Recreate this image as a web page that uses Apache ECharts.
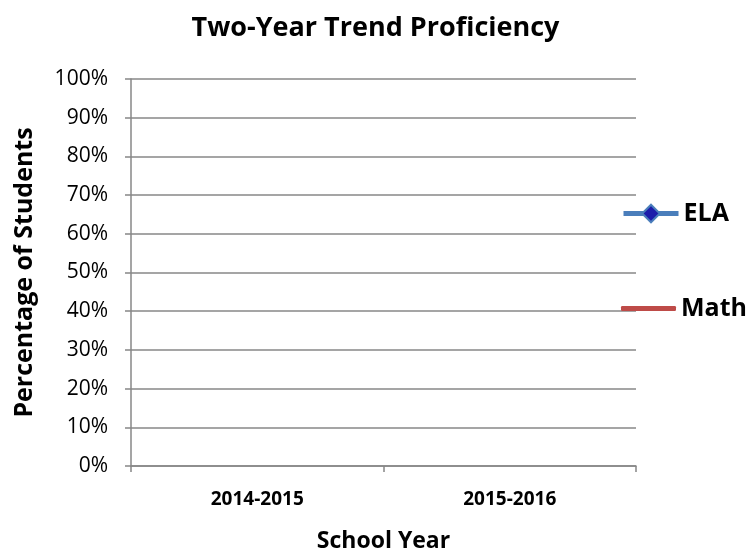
<!DOCTYPE html>
<html lang="en">
<head>
    <meta charset="UTF-8">
    <title>Two-Year Trend Proficiency</title>
    <style>
        * { margin: 0; padding: 0; }
        #main { width: 751px; height: 555px; background: #fff; }
    </style>
    <script src="https://cdn.jsdelivr.net/npm/echarts@6/dist/echarts.min.js"></script>
</head>
<body>
    <div id="main"></div>
    <script>
        // chart data (no values are plotted in the reference)
        var years = ['2014-2015', '2015-2016'];
        var elaValues = [null, null];
        var mathValues = [null, null];

        var font = 'Open Sans, Liberation Sans, sans-serif';
        var gridColor = '#878787';

        var myChart = echarts.init(document.getElementById('main'));
        var option = {
            backgroundColor: '#ffffff',
            animation: false,
            title: {
                text: 'Two-Year Trend Proficiency',
                left: 'center',
                top: 10,
                textStyle: { fontFamily: font, fontSize: 27, fontWeight: 'bold', color: '#000' }
            },
            grid: { left: 131, right: 115, top: 79, bottom: 89, outerBoundsMode: 'none' },
            legend: [
                {
                    data: ['ELA'],
                    left: 621,
                    top: 201,
                    padding: 0,
                    itemWidth: 55,
                    itemHeight: 22,
                    itemGap: 4,
                    lineStyle: { width: 5 },
                    textStyle: { fontFamily: font, fontSize: 25, fontWeight: 'bold', color: '#000' }
                },
                {
                    data: [{ name: 'Math', icon: 'roundRect', itemStyle: { color: '#be4b48' } }],
                    left: 621,
                    top: 296,
                    padding: 0,
                    itemWidth: 55,
                    itemHeight: 5,
                    itemGap: 4,
                    textStyle: { fontFamily: font, fontSize: 25, fontWeight: 'bold', color: '#000' }
                }
            ],
            xAxis: {
                type: 'category',
                data: years,
                boundaryGap: true,
                name: 'School Year',
                nameLocation: 'middle',
                nameGap: 64,
                nameTextStyle: { fontFamily: font, fontSize: 23, fontWeight: 'bold', color: '#000' },
                axisLine: { lineStyle: { color: gridColor, width: 1.5 } },
                axisTick: { show: true, length: 6, lineStyle: { color: gridColor, width: 1.5 } },
                axisLabel: { fontFamily: font, fontSize: 19, fontWeight: 'bold', color: '#000', margin: 24 }
            },
            yAxis: {
                type: 'value',
                min: 0,
                max: 1,
                interval: 0.1,
                name: 'Percentage of Students',
                nameLocation: 'middle',
                nameGap: 94,
                nameTextStyle: { fontFamily: font, fontSize: 25, fontWeight: 'bold', color: '#000' },
                axisLine: { show: true, lineStyle: { color: gridColor, width: 1.5 } },
                axisTick: { show: true, length: 6, lineStyle: { color: gridColor, width: 1.5 } },
                axisLabel: {
                    fontFamily: font, fontSize: 21, color: '#000', margin: 23,
                    formatter: function (v) { return Math.round(v * 100) + '%'; }
                },
                splitLine: { lineStyle: { color: gridColor, width: 1.5 } }
            },
            series: [
                {
                    name: 'ELA',
                    type: 'line',
                    data: elaValues,
                    symbol: 'diamond',
                    symbolSize: 14,
                    lineStyle: { color: '#4a7ebb', width: 4 },
                    itemStyle: { color: '#1c1caa', borderColor: '#4a7ebb', borderWidth: 1.5 }
                },
                {
                    name: 'Math',
                    type: 'line',
                    data: mathValues,
                    symbol: 'none',
                    lineStyle: { color: '#be4b48', width: 4 },
                    itemStyle: { color: '#be4b48' }
                }
            ]
        };
        myChart.setOption(option);
    </script>
</body>
</html>
